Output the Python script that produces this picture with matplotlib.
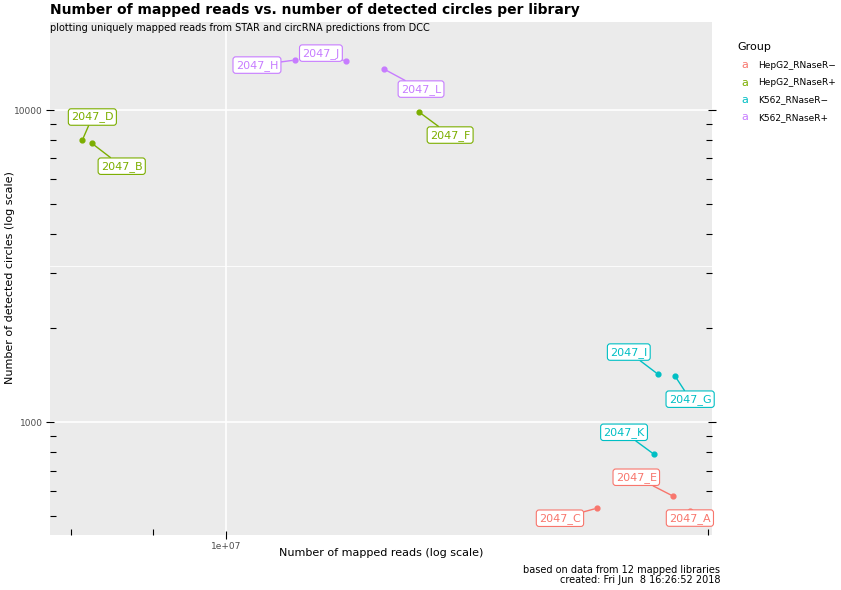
import matplotlib
matplotlib.use("Agg")
import matplotlib.pyplot as plt
import numpy as np
from matplotlib.ticker import FixedLocator, NullFormatter

libs = ["2047_A","2047_B","2047_C","2047_D","2047_E","2047_F","2047_G","2047_H","2047_I","2047_J","2047_K","2047_L"]
groups = ["HepG2_RNaseR-","HepG2_RNaseR+","HepG2_RNaseR-","HepG2_RNaseR+","HepG2_RNaseR-","HepG2_RNaseR+",
          "K562_RNaseR-","K562_RNaseR+","K562_RNaseR-","K562_RNaseR+","K562_RNaseR-","K562_RNaseR+"]
reads = [1.949e7, 8.24e6, 1.705e7, 8.13e6, 1.903e7, 1.32e7, 1.908e7, 1.104e7, 1.861e7, 1.188e7, 1.851e7, 1.255e7]
circles = [519, 7832, 530, 8017, 579, 9854, 1404, 14460, 1426, 14350, 789, 13530]
group_names = ["HepG2_RNaseR−","HepG2_RNaseR+","K562_RNaseR−","K562_RNaseR+"]
group_keys = ["HepG2_RNaseR-","HepG2_RNaseR+","K562_RNaseR-","K562_RNaseR+"]
colors = ["#F8766D","#7CAE00","#00BFC4","#C77CFF"]
cmap = dict(zip(group_keys, colors))
# label offsets in pixels (dx, dy up)
offsets = {"2047_A":(0,-7),"2047_B":(30,-23),"2047_C":(-37,-10),"2047_D":(10,23),"2047_E":(-37,19),
           "2047_F":(31,-23),"2047_G":(15,-23),"2047_H":(-38,-5),"2047_I":(-29,22),"2047_J":(-25,8),
           "2047_K":(-30,22),"2047_L":(37,-20)}

fig = plt.figure(figsize=(8.41,5.90), dpi=100)
ax = fig.add_axes([50/841, 1-535/590, 662/841, 513/590])
ax.set_facecolor("#EBEBEB")
ax.set_xscale("log"); ax.set_yscale("log")
ax.set_xlim(7.76e6, 2.012e7)
ax.set_ylim(435, 19150)
for s in ax.spines.values(): s.set_visible(False)
ax.grid(False)
ax.axvline(1e7, color="white", lw=1.2, zorder=0)
for v in [1000, 10000]:
    ax.axhline(v, color="white", lw=1.2, zorder=0)
ax.axhline(np.sqrt(1e7), color="white", lw=0.6, zorder=0)

ax.xaxis.set_major_locator(FixedLocator([1e7]))
ax.xaxis.set_minor_locator(FixedLocator([8e6, 9e6, 2e7]))
ax.yaxis.set_major_locator(FixedLocator([1000, 10000]))
ax.yaxis.set_minor_locator(FixedLocator([500,600,700,800,900,2000,3000,4000,5000,6000,7000,8000,9000]))
ax.xaxis.set_minor_formatter(NullFormatter()); ax.yaxis.set_minor_formatter(NullFormatter())
ax.set_xticklabels(["1e+07"]); ax.set_yticklabels(["1000","10000"])
ax.tick_params(which="major", direction="inout", length=6, width=0.8, pad=2, labelsize=6.5, colors="black", labelcolor="#4D4D4D", left=True, right=True, bottom=True)
ax.tick_params(which="minor", direction="in", length=4, width=0.8, left=True, right=True, bottom=True)
for lab, g, x, y in zip(libs, groups, reads, circles):
    c = cmap[g]
    ax.scatter([x],[y], s=12, color=c, zorder=3)
    dx, dy = offsets[lab]
    ax.annotate(lab, (x,y), xytext=(dx,dy), textcoords="offset pixels", ha="center", va="center",
                fontsize=8, color=c, zorder=4,
                bbox=dict(boxstyle="round,pad=0.25", fc="white", ec=c, lw=0.8),
                arrowprops=dict(arrowstyle="-", color=c, lw=1.0, shrinkA=0, shrinkB=2))
fig.text(381/841, 1-553/590, "Number of mapped reads (log scale)", fontsize=8, ha="center", va="center")
fig.text(10/841, 1-278/590, "Number of detected circles (log scale)", fontsize=8, ha="center", va="center", rotation=90)

fig.text(50/841, 1-10/590, "Number of mapped reads vs. number of detected circles per library", fontsize=10, fontweight="bold", va="center")
fig.text(50/841, 1-28/590, "plotting uniquely mapped reads from STAR and circRNA predictions from DCC", fontsize=7, va="center")
fig.text(720/841, 1-570/590, "based on data from 12 mapped libraries", fontsize=7, ha="right", va="center")
fig.text(720/841, 1-580/590, "created: Fri Jun  8 16:26:52 2018", fontsize=7, ha="right", va="center")
fig.text(737/841, 1-47/590, "Group", fontsize=8, va="center")
for i, (n, c) in enumerate(zip(group_names, colors)):
    yy = 1-(65+17.5*i)/590
    fig.text(745/841, yy, "a", fontsize=8, color=c, ha="center", va="center")
    fig.text(758/841, yy, n, fontsize=6.5, va="center")
fig.savefig("out.png", dpi=100)
